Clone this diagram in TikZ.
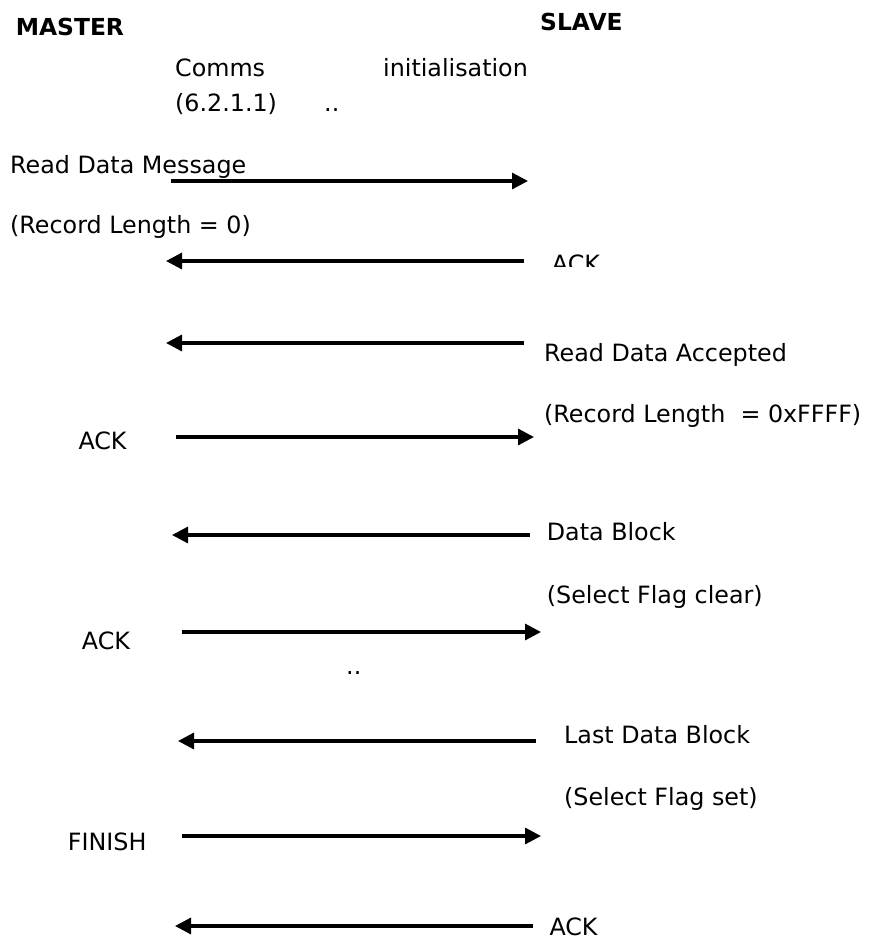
\documentclass[tikz,border=0pt]{standalone}
\usepackage{fontspec}
\setmainfont{DejaVu Sans}
\usetikzlibrary{arrows.meta}

\begin{document}
\begin{tikzpicture}[x=1pt, y=-1pt,
  txt/.style={anchor=base west, inner sep=0pt, font=\fontsize{23.8}{28}\selectfont},
  head/.style={txt, font=\fontsize{23.4}{28}\selectfont\bfseries},
  msg/.style={line width=3.2pt, -{Triangle[length=16pt, width=16pt]}},
]
\useasboundingbox (0,0) rectangle (871,940);

\node[head] (master) at (15.6,35.7) {MASTER};
\node[head] (slave) at (540,30.7) {SLAVE};

\node[txt] (comms) at (175,76.7) {Comms};
\node[txt] (init) at (383,76.7) {initialisation};
\node[txt] (sect) at (175,111.7) {(6.2.1.1)};
\node[txt] (dots1) at (324,111.7) {..};

\node[txt] (rdmsg) at (10,173) {Read Data Message};
\node[txt] (rdlen) at (10,233) {(Record Length = 0)};

\begin{scope}
  \clip (540,240) rectangle (620,266);
  \node[txt] (ack1) at (551.7,272.3) {ACK};
\end{scope}

\node[txt] (rdacc) at (544,361.7) {Read Data Accepted};
\node[txt] (acclen) at (544,422.7) {(Record Length\ \ = 0xFFFF)};
\node[txt] (ack2) at (78.3,449) {ACK};

\node[txt] (blk) at (546.7,540.7) {Data Block};
\node[txt] (blkflag) at (546.7,603.3) {(Select Flag clear)};
\node[txt] (ack3) at (81.7,649.3) {ACK};
\node[txt] (dots2) at (346,674) {..};

\node[txt] (lastblk) at (564,743.3) {Last Data Block};
\node[txt] (lastflag) at (564,805) {(Select Flag set)};
\node[txt] (finish) at (67.7,850) {FINISH};
\node[txt] (ack4) at (549.3,935.5) {ACK};

% message arrows, tail -> head
\foreach \n/\xa/\xb/\y in {1/171/528/181, 2/524/166/261, 3/524/166/343,
    4/176/534/437, 5/530/172/535, 6/182/541/632, 7/536/178/741,
    8/182/541/836, 9/533/175/926} {
  \coordinate (t\n) at (\xa,\y);
  \coordinate (h\n) at (\xb,\y);
  \draw[msg] (t\n) -- (h\n);
}
\end{tikzpicture}
\end{document}
